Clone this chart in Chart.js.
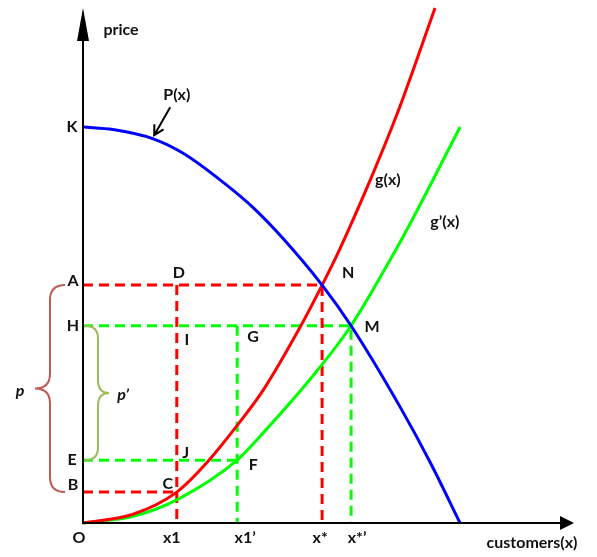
<!DOCTYPE html>
<html>
<head>
<meta charset="utf-8">
<script src="https://cdn.jsdelivr.net/npm/chart.js@4"></script>
<style>
  html, body { margin: 0; padding: 0; background: #fff; }
  #wrap { width: 597px; height: 557px; position: relative; }
</style>
</head>
<body>
<div id="wrap"><canvas id="chart"></canvas></div>
<script>
// ---- DATA (both axes run 0..10) ----
// P(x): price customers will pay
const demandX = [0, 0.61, 1.43, 2.04, 2.85, 3.46, 4.07, 4.87, 5.46, 6.46, 7.07, 7.68];
const demandY = [7.69, 7.64, 7.46, 7.18, 6.62, 6.13, 5.53, 4.62, 3.83, 2.25, 1.18, 0];
// g(x)
const costX = [0, 1.02, 1.91, 2.51, 3.16, 3.67, 4.42, 4.87, 5.23, 5.89, 6.40, 7.17];
const costY = [0, 0.17, 0.60, 1.16, 1.92, 2.58, 3.80, 4.62, 5.32, 6.75, 7.95, 10.0];
// g'(x)
const costNewX = [0, 1.02, 1.91, 3.14, 3.67, 4.83, 5.46, 6.25, 6.70, 7.68];
const costNewY = [0, 0.13, 0.45, 1.22, 1.75, 3.03, 3.83, 5.10, 5.88, 7.69];

// price levels on the y axis, quantities on the x axis
const levelNames = ["K", "A", "H", "E", "B"];
const levelValues = [7.69, 4.62, 3.83, 1.22, 0.60];
const qtyNames = ["x1", "x1’", "x*", "x*’"];
const qtyValues = [1.91, 3.14, 4.87, 5.46];

const lvl = n => levelValues[levelNames.indexOf(n)];
const qty = n => qtyValues[qtyNames.indexOf(n)];
const pts = (xs, ys) => xs.map((v, i) => ({ x: v, y: ys[i] }));

// ---- DATASETS ----
function curve(xs, ys, color) {
  return {
    data: pts(xs, ys),
    showLine: true,
    borderColor: color,
    borderWidth: 3,
    pointRadius: 0,
    cubicInterpolationMode: "monotone",
    order: 0,
    clip: false
  };
}

function dashed(points, color) {
  return {
    data: points,
    showLine: true,
    borderColor: color,
    borderWidth: 3,
    borderDash: [10, 6],
    pointRadius: 0,
    tension: 0,
    order: 1,
    clip: false
  };
}

const RED = "#ff0000", GREEN = "#00ff00", BLUE = "#0000ff";

const datasets = [
  curve(demandX, demandY, BLUE),
  curve(costX, costY, RED),
  curve(costNewX, costNewY, GREEN),
  // g(x) equilibrium
  dashed([{ x: 0, y: lvl("A") }, { x: qty("x*"), y: lvl("A") }, { x: qty("x*"), y: 0 }], RED),
  dashed([{ x: qty("x1"), y: lvl("A") }, { x: qty("x1"), y: 0 }], RED),
  dashed([{ x: 0, y: lvl("B") }, { x: qty("x1"), y: lvl("B") }], RED),
  // g'(x) equilibrium
  dashed([{ x: 0, y: lvl("H") }, { x: qty("x*’"), y: lvl("H") }, { x: qty("x*’"), y: 0 }], GREEN),
  dashed([{ x: qty("x1’"), y: lvl("H") }, { x: qty("x1’"), y: 0 }], GREEN),
  dashed([{ x: 0, y: lvl("E") }, { x: qty("x1’"), y: lvl("E") }], GREEN)
];

// ---- LABELS (anchored on data values, nudged in px) ----
const labels = [
  { t: "K", x: 0, y: lvl("K"), dx: -11, dy: 0 },
  { t: "A", x: 0, y: lvl("A"), dx: -10, dy: -4 },
  { t: "H", x: 0, y: lvl("H"), dx: -10, dy: 0 },
  { t: "E", x: 0, y: lvl("E"), dx: -11, dy: 0 },
  { t: "B", x: 0, y: lvl("B"), dx: -10, dy: -7 },
  { t: "O", x: 0, y: 0, dx: -4, dy: 15 },
  { t: "D", x: qty("x1"), y: lvl("A"), dx: 2, dy: -12 },
  { t: "I", x: qty("x1"), y: lvl("H"), dx: 10, dy: 14 },
  { t: "G", x: qty("x1’"), y: lvl("H"), dx: 16, dy: 11 },
  { t: "J", x: qty("x1"), y: lvl("E"), dx: 9, dy: -7 },
  { t: "F", x: qty("x1’"), y: lvl("E"), dx: 16, dy: 5 },
  { t: "C", x: qty("x1"), y: lvl("B"), dx: -9, dy: -8 },
  { t: "N", x: qty("x*"), y: lvl("A"), dx: 26, dy: -12 },
  { t: "M", x: qty("x*’"), y: lvl("H"), dx: 21, dy: 1 },
  { t: "x1", x: qty("x1"), y: 0, dx: -5, dy: 15 },
  { t: "x1’", x: qty("x1’"), y: 0, dx: 8, dy: 15 },
  { t: "x*", x: qty("x*"), y: 0, dx: -2, dy: 15 },
  { t: "x*’", x: qty("x*’"), y: 0, dx: 6, dy: 15 },
  { t: "customers(x)", x: 10, y: 0, dx: -42, dy: 20 },
  { t: "price", x: 0, y: 10, dx: 38, dy: 22 },
  { t: "P(x)", x: 1.91, y: 8.31, dx: 0, dy: 0 },
  { t: "g(x)", x: 6.21, y: 6.66, dx: 0, dy: 0 },
  { t: "g’(x)", x: 7.37, y: 5.84, dx: 0, dy: 0 }
];

// ---- DRAWING PLUGIN: axes, braces, labels ----
function brace(ctx, xTip, xSpine, xPoint, yTop, yBot, color) {
  const r = Math.abs(xSpine - xTip);
  const ym = (yTop + yBot) / 2;
  ctx.beginPath();
  ctx.moveTo(xTip, yTop);
  ctx.quadraticCurveTo(xSpine, yTop, xSpine, yTop + r);
  ctx.lineTo(xSpine, ym - r);
  ctx.quadraticCurveTo(xSpine, ym, xPoint, ym);
  ctx.quadraticCurveTo(xSpine, ym, xSpine, ym + r);
  ctx.lineTo(xSpine, yBot - r);
  ctx.quadraticCurveTo(xSpine, yBot, xTip, yBot);
  ctx.strokeStyle = color;
  ctx.lineWidth = 2;
  ctx.stroke();
}

const diagram = {
  id: "diagram",
  afterDatasetsDraw(chart) {
    const { ctx, scales: { x, y } } = chart;
    const px = v => x.getPixelForValue(v);
    const py = v => y.getPixelForValue(v);
    const ox = px(0), oy = py(0);

    ctx.save();
    // axes
    ctx.strokeStyle = "#000";
    ctx.fillStyle = "#000";
    ctx.lineWidth = 2;
    ctx.beginPath();
    ctx.moveTo(ox, oy + 1);
    ctx.lineTo(ox, py(10) + 30);
    ctx.moveTo(ox - 1, oy);
    ctx.lineTo(px(10) - 12, oy);
    ctx.stroke();
    ctx.beginPath();
    ctx.moveTo(ox, py(10));
    ctx.lineTo(ox - 6, py(10) + 33);
    ctx.lineTo(ox + 6, py(10) + 33);
    ctx.closePath();
    ctx.fill();
    ctx.beginPath();
    ctx.moveTo(px(10), oy);
    ctx.lineTo(px(10) - 14, oy - 7);
    ctx.lineTo(px(10) - 14, oy + 7);
    ctx.closePath();
    ctx.fill();

    // pointer to P(x)
    const tipX = px(1.45), tipY = py(7.53);
    const tailX = tipX + 16, tailY = tipY - 28;
    const ang = Math.atan2(tipY - tailY, tipX - tailX);
    ctx.lineWidth = 2;
    ctx.beginPath();
    ctx.moveTo(tailX, tailY);
    ctx.lineTo(tipX, tipY);
    ctx.moveTo(tipX - 11 * Math.cos(ang - 0.5), tipY - 11 * Math.sin(ang - 0.5));
    ctx.lineTo(tipX, tipY);
    ctx.lineTo(tipX - 11 * Math.cos(ang + 0.5), tipY - 11 * Math.sin(ang + 0.5));
    ctx.stroke();

    // braces p and p'
    brace(ctx, ox - 18, ox - 33, ox - 48, py(lvl("A")), py(lvl("B")), "#be5b57");
    brace(ctx, ox + 2, ox + 15, ox + 26, py(lvl("H")), py(lvl("E")), "#9bbb59");

    // text
    ctx.fillStyle = "#111";
    ctx.textAlign = "center";
    ctx.textBaseline = "middle";
    ctx.font = "bold 16px Lato, 'Open Sans', sans-serif";
    labels.forEach(l => ctx.fillText(l.t, px(l.x) + l.dx, py(l.y) + l.dy));
    ctx.font = "italic bold 16px Lato, 'Open Sans', sans-serif";
    const pm = (py(lvl("A")) + py(lvl("B"))) / 2;
    const pm2 = (py(lvl("H")) + py(lvl("E"))) / 2;
    ctx.fillText("p", ox - 63, pm + 2);
    ctx.fillText("p’", ox + 40, pm2 + 2);
    ctx.restore();
  }
};

// ---- CHART ----
new Chart(document.getElementById("chart"), {
  type: "scatter",
  data: { datasets },
  options: {
    responsive: true,
    maintainAspectRatio: false,
    animation: false,
    layout: { padding: { left: 83, right: 23, top: 8, bottom: 34 } },
    plugins: { legend: { display: false }, tooltip: { enabled: false } },
    scales: {
      x: { type: "linear", min: 0, max: 10, display: false },
      y: { type: "linear", min: 0, max: 10, display: false }
    }
  },
  plugins: [diagram]
});
</script>
</body>
</html>
